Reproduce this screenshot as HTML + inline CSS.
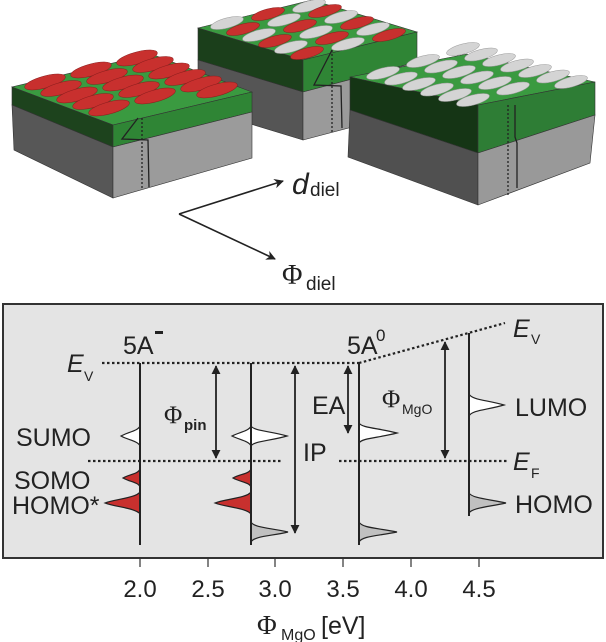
<!DOCTYPE html>
<html><head><meta charset="utf-8"><style>
html,body{margin:0;padding:0;background:#fff;}
svg{display:block;}
text{font-family:"Liberation Sans",sans-serif;fill:#222;}
.s{font-family:"Liberation Serif",serif;}
</style></head><body>
<svg width="606" height="642" viewBox="0 0 606 642" xmlns="http://www.w3.org/2000/svg">
<defs>
<marker id="ah" viewBox="0 0 10 10" refX="9" refY="5" markerWidth="5" markerHeight="5" orient="auto-start-reverse"><path d="M0,0 L10,5 L0,10 Z" fill="#222"/></marker>
<marker id="ab" viewBox="0 0 10 10" refX="9" refY="5" markerWidth="7" markerHeight="6" orient="auto"><path d="M0,0 L10,5 L0,10 L3,5 Z" fill="#222"/></marker>
</defs>
<g stroke="#333" stroke-width="0.6">
<polygon points="198,28 303,60 417,32 312,0" fill="#3a9a40"/>
<polygon points="198,28 303,60 303,92 198,60" fill="#1b3f1b"/>
<polygon points="198,60 303,92 303,140 198,108" fill="#555"/>
<polygon points="303,60 417,32 417,62 303,92" fill="#2f8535"/>
<polygon points="303,92 417,62 417,110 303,140" fill="#9a9a9a"/>
</g>
<g stroke-width="0.5">
<g transform="rotate(-15 227 23)"><ellipse cx="227" cy="23" rx="17" ry="5" fill="#d4d4d4" stroke="#999"/></g>
<g transform="rotate(-15 243 29)"><ellipse cx="243" cy="29" rx="17" ry="5" fill="#c8302e" stroke="#8a1e1e"/></g>
<g transform="rotate(-15 259 35)"><ellipse cx="259" cy="35" rx="17" ry="5" fill="#d4d4d4" stroke="#999"/></g>
<g transform="rotate(-15 275 41)"><ellipse cx="275" cy="41" rx="17" ry="5" fill="#c8302e" stroke="#8a1e1e"/></g>
<g transform="rotate(-15 291 47)"><ellipse cx="291" cy="47" rx="17" ry="5" fill="#d4d4d4" stroke="#999"/></g>
<g transform="rotate(-15 307 53)"><ellipse cx="307" cy="53" rx="17" ry="5" fill="#c8302e" stroke="#8a1e1e"/></g>
<g transform="rotate(-15 268 14)"><ellipse cx="268" cy="14" rx="17" ry="5" fill="#c8302e" stroke="#8a1e1e"/></g>
<g transform="rotate(-15 284 20)"><ellipse cx="284" cy="20" rx="17" ry="5" fill="#d4d4d4" stroke="#999"/></g>
<g transform="rotate(-15 300 26)"><ellipse cx="300" cy="26" rx="17" ry="5" fill="#c8302e" stroke="#8a1e1e"/></g>
<g transform="rotate(-15 316 32)"><ellipse cx="316" cy="32" rx="17" ry="5" fill="#d4d4d4" stroke="#999"/></g>
<g transform="rotate(-15 332 38)"><ellipse cx="332" cy="38" rx="17" ry="5" fill="#c8302e" stroke="#8a1e1e"/></g>
<g transform="rotate(-15 348 44)"><ellipse cx="348" cy="44" rx="17" ry="5" fill="#d4d4d4" stroke="#999"/></g>
<g transform="rotate(-15 309 6)"><ellipse cx="309" cy="6" rx="17" ry="5" fill="#d4d4d4" stroke="#999"/></g>
<g transform="rotate(-15 325 11)"><ellipse cx="325" cy="11" rx="17" ry="5" fill="#c8302e" stroke="#8a1e1e"/></g>
<g transform="rotate(-15 341 17)"><ellipse cx="341" cy="17" rx="17" ry="5" fill="#d4d4d4" stroke="#999"/></g>
<g transform="rotate(-15 357 23)"><ellipse cx="357" cy="23" rx="17" ry="5" fill="#c8302e" stroke="#8a1e1e"/></g>
<g transform="rotate(-15 373 29)"><ellipse cx="373" cy="29" rx="17" ry="5" fill="#d4d4d4" stroke="#999"/></g>
<g transform="rotate(-15 389 35)"><ellipse cx="389" cy="35" rx="17" ry="5" fill="#c8302e" stroke="#8a1e1e"/></g>
</g>
<polyline points="332,50 314,85 341,86 342,128" fill="none" stroke="#222" stroke-width="1.3"/>
<line x1="332" y1="50" x2="332" y2="132" stroke="#222" stroke-width="1.3" stroke-dasharray="2,2"/>

<g stroke="#333" stroke-width="0.6">
<polygon points="12,87 113,125 252,92 151,54" fill="#3a9a40"/>
<polygon points="12,87 113,125 113,147 12,105" fill="#1d431d"/>
<polygon points="12,105 113,147 113,198 14,150" fill="#575757"/>
<polygon points="113,125 252,92 252,112 113,147" fill="#2f8535"/>
<polygon points="113,147 252,112 252,158 113,198" fill="#9b9b9b"/>
</g>
<g fill="#c8302e" stroke="#8a1e1e" stroke-width="0.5">
<ellipse cx="45" cy="82" rx="21" ry="6" transform="rotate(-15 45 82)"/>
<ellipse cx="61" cy="88.5" rx="21" ry="6" transform="rotate(-15 61 88.5)"/>
<ellipse cx="77" cy="95" rx="21" ry="6" transform="rotate(-15 77 95)"/>
<ellipse cx="93" cy="101.5" rx="21" ry="6" transform="rotate(-15 93 101.5)"/>
<ellipse cx="109" cy="108" rx="21" ry="6" transform="rotate(-15 109 108)"/>
<ellipse cx="91" cy="70" rx="21" ry="6" transform="rotate(-15 91 70)"/>
<ellipse cx="107" cy="76.5" rx="21" ry="6" transform="rotate(-15 107 76.5)"/>
<ellipse cx="123" cy="83" rx="21" ry="6" transform="rotate(-15 123 83)"/>
<ellipse cx="139" cy="89.5" rx="21" ry="6" transform="rotate(-15 139 89.5)"/>
<ellipse cx="155" cy="96" rx="21" ry="6" transform="rotate(-15 155 96)"/>
<ellipse cx="137" cy="58" rx="21" ry="6" transform="rotate(-15 137 58)"/>
<ellipse cx="153" cy="64.5" rx="21" ry="6" transform="rotate(-15 153 64.5)"/>
<ellipse cx="169" cy="71" rx="21" ry="6" transform="rotate(-15 169 71)"/>
<ellipse cx="185" cy="77.5" rx="21" ry="6" transform="rotate(-15 185 77.5)"/>
<ellipse cx="201" cy="84" rx="21" ry="6" transform="rotate(-15 201 84)"/>
<ellipse cx="217" cy="90" rx="21" ry="6" transform="rotate(-15 217 90)"/>
</g>
<polyline points="138,118 122,139 148,140 149,187" fill="none" stroke="#222" stroke-width="1.3"/>
<line x1="142" y1="118" x2="142" y2="190" stroke="#222" stroke-width="1.3" stroke-dasharray="2,2"/>

<g stroke="#333" stroke-width="0.6">
<polygon points="350,77 478,105 595,82 467,54" fill="#3a9a40"/>
<polygon points="350,77 478,105 478,153 350,110" fill="#153515"/>
<polygon points="350,110 478,153 478,205 348,157" fill="#505050"/>
<polygon points="478,105 595,82 595,115 478,153" fill="#2e7d35"/>
<polygon points="478,153 595,115 590,163 478,205" fill="#999"/>
</g>
<g fill="#d4d4d4" stroke="#999" stroke-width="0.5">
<ellipse cx="383" cy="73" rx="17" ry="5" transform="rotate(-15 383 73)"/>
<ellipse cx="401" cy="78.5" rx="17" ry="5" transform="rotate(-15 401 78.5)"/>
<ellipse cx="419" cy="84" rx="17" ry="5" transform="rotate(-15 419 84)"/>
<ellipse cx="437" cy="89.5" rx="17" ry="5" transform="rotate(-15 437 89.5)"/>
<ellipse cx="455" cy="95" rx="17" ry="5" transform="rotate(-15 455 95)"/>
<ellipse cx="473" cy="100" rx="17" ry="5" transform="rotate(-15 473 100)"/>
<ellipse cx="423" cy="61" rx="17" ry="5" transform="rotate(-15 423 61)"/>
<ellipse cx="441" cy="66.5" rx="17" ry="5" transform="rotate(-15 441 66.5)"/>
<ellipse cx="459" cy="72" rx="17" ry="5" transform="rotate(-15 459 72)"/>
<ellipse cx="477" cy="77.5" rx="17" ry="5" transform="rotate(-15 477 77.5)"/>
<ellipse cx="495" cy="83" rx="17" ry="5" transform="rotate(-15 495 83)"/>
<ellipse cx="513" cy="88.5" rx="17" ry="5" transform="rotate(-15 513 88.5)"/>
<ellipse cx="463" cy="49" rx="17" ry="5" transform="rotate(-15 463 49)"/>
<ellipse cx="481" cy="54.5" rx="17" ry="5" transform="rotate(-15 481 54.5)"/>
<ellipse cx="499" cy="60" rx="17" ry="5" transform="rotate(-15 499 60)"/>
<ellipse cx="517" cy="65.5" rx="17" ry="5" transform="rotate(-15 517 65.5)"/>
<ellipse cx="535" cy="71" rx="17" ry="5" transform="rotate(-15 535 71)"/>
<ellipse cx="553" cy="76.5" rx="17" ry="5" transform="rotate(-15 553 76.5)"/>
<ellipse cx="571" cy="82" rx="17" ry="5" transform="rotate(-15 571 82)"/>
</g>
<polyline points="515,105 515,137 517,143 517,188" fill="none" stroke="#222" stroke-width="1.3"/>
<line x1="508" y1="105" x2="508" y2="195" stroke="#222" stroke-width="1.3" stroke-dasharray="2,2"/>

<line x1="179" y1="214" x2="283" y2="181" stroke="#222" stroke-width="1.6" marker-end="url(#ab)"/>
<line x1="179" y1="214" x2="275" y2="259" stroke="#222" stroke-width="1.6" marker-end="url(#ab)"/>
<text x="292" y="194" font-size="30" font-style="italic">d</text>
<text x="310" y="196" font-size="19">diel</text>
<text class="s" x="282" y="284" font-size="28">Φ</text>
<text x="306" y="290" font-size="19">diel</text>

<rect x="3" y="304" width="600" height="254" fill="#e4e4e4" stroke="#333" stroke-width="2"/>
<g stroke="#333" stroke-width="1.2">
<line x1="140" y1="558" x2="140" y2="567"/><line x1="208" y1="558" x2="208" y2="567"/>
<line x1="275" y1="558" x2="275" y2="567"/><line x1="343" y1="558" x2="343" y2="567"/>
<line x1="411" y1="558" x2="411" y2="567"/><line x1="479" y1="558" x2="479" y2="567"/>
</g>
<g font-size="24" text-anchor="middle">
<text x="140" y="597">2.0</text><text x="208" y="597">2.5</text><text x="275" y="597">3.0</text>
<text x="343" y="597">3.5</text><text x="411" y="597">4.0</text><text x="479" y="597">4.5</text>
</g>
<text class="s" x="257" y="634" font-size="27">Φ</text>
<text x="281" y="640" font-size="16">MgO</text>
<text x="321" y="634" font-size="25">[eV]</text>

<g stroke="#222" stroke-width="2.2" stroke-dasharray="2.5,2.5" fill="none">
<line x1="102" y1="363" x2="359" y2="363"/>
<line x1="359" y1="363" x2="505" y2="323"/>
<line x1="88" y1="461" x2="281" y2="461"/>
<line x1="339" y1="461" x2="508" y2="461"/>
</g>

<g stroke="#222" stroke-width="1.2">
<path d="M140,426 C138,431 128,432 121,436 C128,440 138,441 140,446 Z" fill="#fff"/>
<path d="M140,469 C138,474 130,474 123,478 C130,482 138,482 140,487 Z" fill="#c8302e"/>
<path d="M140,492 C136,498 115,499 105,503 C115,507 136,508 140,514 Z" fill="#c8302e"/>
<path d="M251,426 C249,431 240,432 232,436 C240,440 249,441 251,446 Z" fill="#fff"/>
<path d="M251,426 C254,431 270,431 287,436 C270,441 254,441 251,446 Z" fill="#fff"/>
<path d="M251,469 C249,474 240,474 233,478 C240,482 249,482 251,487 Z" fill="#c8302e"/>
<path d="M251,492 C247,498 225,499 215,503 C225,507 247,508 251,514 Z" fill="#c8302e"/>
<path d="M251,522 C254,528 272,528 288,532 C272,536 254,536 251,542 Z" fill="#c0c0c0"/>
<path d="M359,423 C362,428 378,428 397,433 C378,438 362,438 359,443 Z" fill="#fff"/>
<path d="M359,522 C362,528 378,528 397,532 C378,536 362,536 359,542 Z" fill="#c0c0c0"/>
<path d="M469,394 C472,400 487,400 504,405 C487,410 472,410 469,416 Z" fill="#fff"/>
<path d="M469,493 C472,498 487,499 506,503 C487,507 472,508 469,513 Z" fill="#c0c0c0"/>
</g>
<g stroke="#222" stroke-width="2">
<line x1="140" y1="363" x2="140" y2="545"/>
<line x1="251" y1="363" x2="251" y2="545"/>
<line x1="359" y1="363" x2="359" y2="545"/>
<line x1="469" y1="333" x2="469" y2="516"/>
</g>
<g stroke="#222" stroke-width="1.8" marker-start="url(#ah)" marker-end="url(#ah)">
<line x1="216" y1="366" x2="216" y2="458"/>
<line x1="295" y1="366" x2="295" y2="533"/>
<line x1="348" y1="366" x2="348" y2="433"/>
<line x1="445" y1="342" x2="445" y2="458"/>
</g>

<g font-size="25">
<text x="123" y="354">5A</text>
<rect x="155" y="331" width="8" height="3" fill="#222"/>
<text x="347" y="354">5A</text>
<text x="376" y="341" font-size="17">0</text>
<text x="16" y="446">SUMO</text>
<text x="14" y="489">SOMO</text>
<text x="12" y="514">HOMO*</text>
<text x="515" y="416">LUMO</text>
<text x="515" y="513">HOMO</text>
<text x="303" y="461">IP</text>
<text x="312" y="414">EA</text>
</g>
<text x="67" y="372" font-size="25" font-style="italic">E</text>
<text x="84" y="381" font-size="14">V</text>
<text x="513" y="337" font-size="25" font-style="italic">E</text>
<text x="531" y="344" font-size="14">V</text>
<text x="513" y="470" font-size="25" font-style="italic">E</text>
<text x="531" y="478" font-size="14">F</text>
<text class="s" x="164" y="423" font-size="25">Φ</text>
<text x="184" y="430" font-size="15" font-weight="bold">pin</text>
<text class="s" x="382" y="407" font-size="25">Φ</text>
<text x="402" y="414" font-size="14">MgO</text>
</svg>
</body></html>
